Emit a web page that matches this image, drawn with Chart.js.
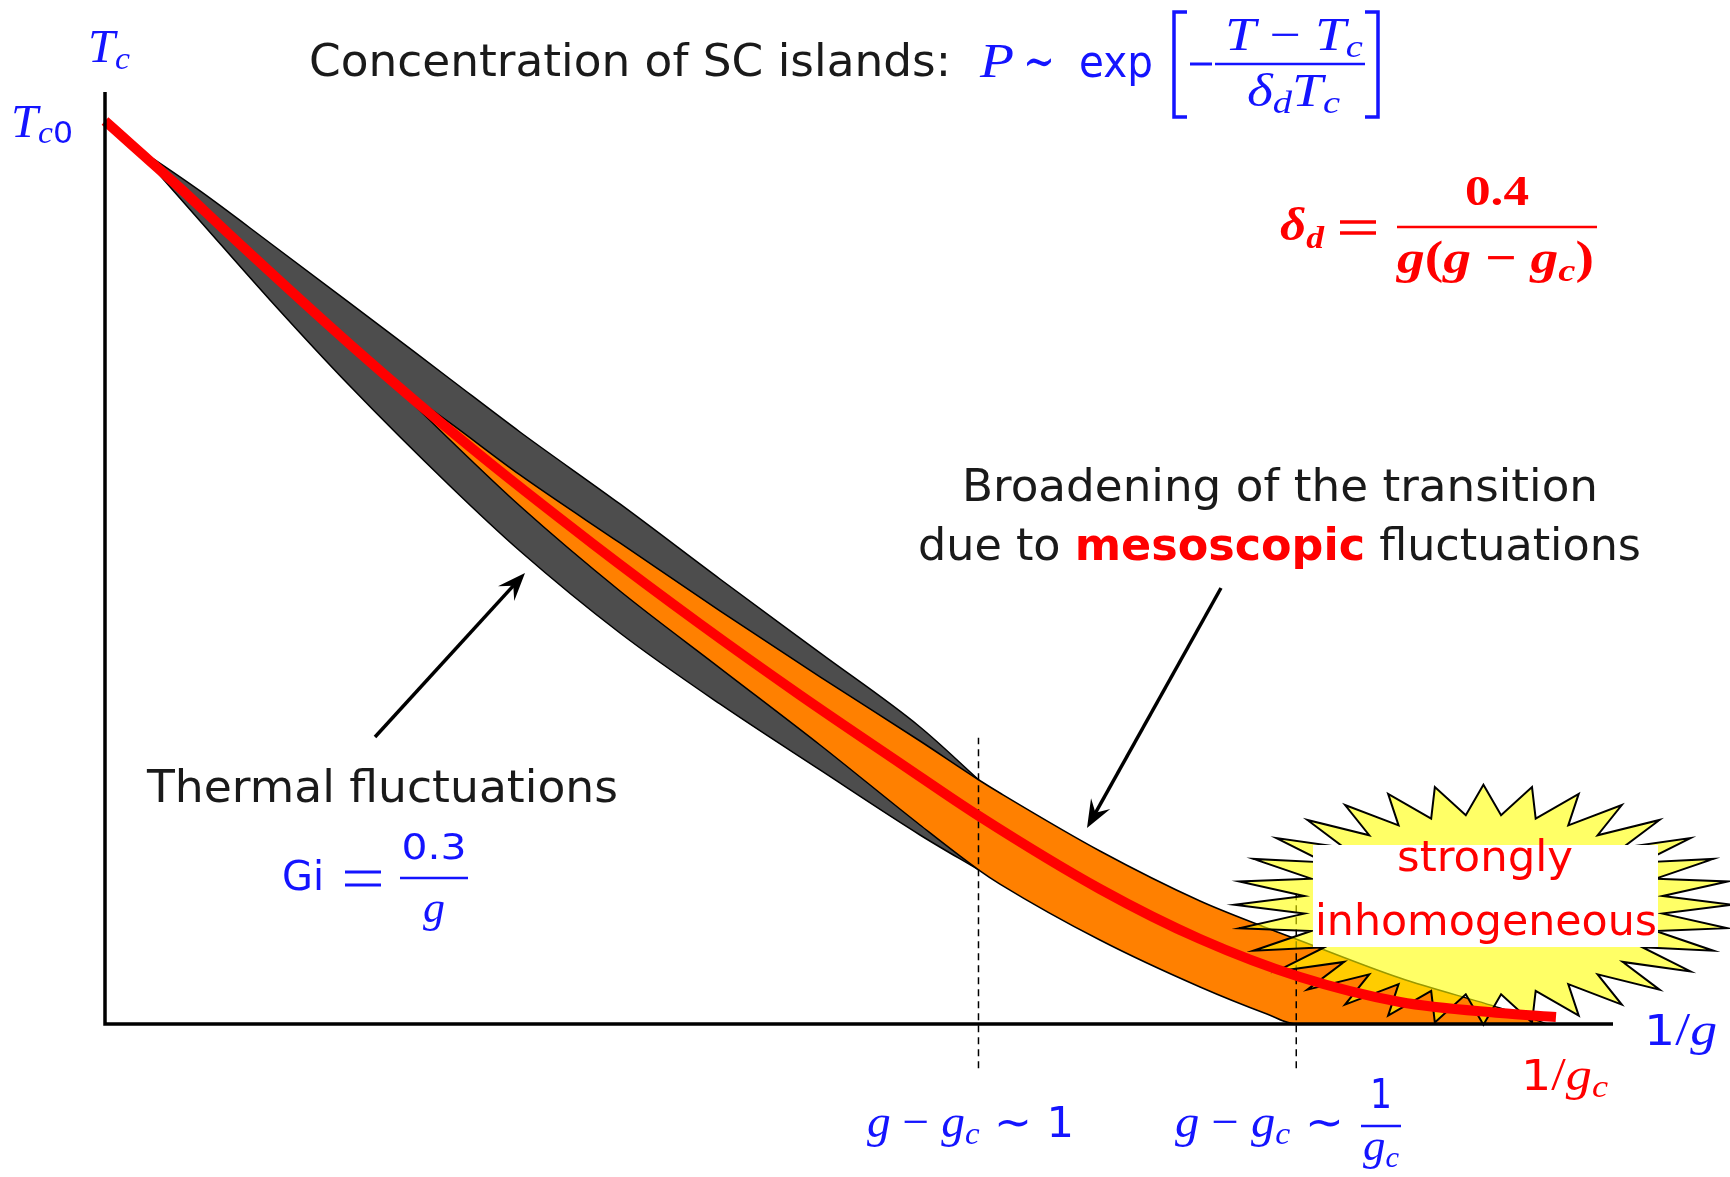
<!DOCTYPE html>
<html>
<head>
<meta charset="utf-8">
<script src="https://cdn.jsdelivr.net/npm/chart.js@4.4.1/dist/chart.umd.min.js"></script>
<style>
  html, body { margin: 0; padding: 0; background: #fff; }
  #wrap { width: 1730px; height: 1177px; position: relative; }
</style>
</head>
<body>
<div id="wrap"><canvas id="tc"></canvas></div>
<script>
// x axis: 1/g in units of 1/g_c, y axis: T_c in units of T_c0

// mean-field T_c(1/g)
const tcX = [0, 0.0193, 0.0517, 0.0861, 0.1709, 0.2516, 0.3363, 0.4101, 0.479, 0.5479, 0.6023, 0.6857, 0.7547, 0.8236, 0.8925, 0.9614, 1.0];
const tcY = [1.0, 0.9723, 0.9258, 0.8738, 0.7497, 0.639, 0.5316, 0.443, 0.3643, 0.289, 0.2303, 0.1495, 0.0941, 0.052, 0.0244, 0.0122, 0.0078];

// edges of the thermal-fluctuation region
const thermalX = [0.0193, 0.0655, 0.1137, 0.1688, 0.2378, 0.286, 0.3549, 0.4238, 0.4928, 0.5617, 0.6023];
const thermalHi = [0.9734, 0.9225, 0.8649, 0.7984, 0.7143, 0.6556, 0.5759, 0.4928, 0.4109, 0.3289, 0.2702];
const thermalLo = [0.9734, 0.8893, 0.8018, 0.7065, 0.5958, 0.5238, 0.433, 0.3544, 0.2813, 0.2093, 0.1705];

// edges of the broadening from mesoscopic fluctuations
const mesoX = [0.1943, 0.2378, 0.286, 0.3549, 0.4238, 0.4928, 0.5617, 0.6023, 0.6168, 0.6857, 0.7547, 0.8008, 0.8208, 0.8925, 0.9614, 0.9945];
const mesoHi = [0.7154, 0.6656, 0.608, 0.5327, 0.4574, 0.3843, 0.3134, 0.2702, 0.2558, 0.1916, 0.1362, 0.1063, 0.0941, 0.0509, 0.0177, 0];
const mesoLo = [0.7154, 0.6467, 0.5736, 0.4795, 0.3942, 0.309, 0.2204, 0.1705, 0.155, 0.093, 0.041, 0.0111, 0, 0, 0, 0];

// crossovers g - g_c ~ 1 and g - g_c ~ 1/g_c
const crossX = [0.602, 0.821];
const crossTop = [0.317, 0.145];
const crossBottom = -0.049;

const SANS = '"DejaVu Sans", sans-serif';
const SERIF = '"Liberation Serif", "DejaVu Serif", serif';
const BLUE = '#1414ff';
const RED = '#ff0000';
const INK = '#1a1a1a';

function points(xs, ys) {
    return xs.map((x, i) => ({ x, y: ys[i] }));
}

function edge(xs, ys, order, extra) {
    return Object.assign({
        data: points(xs, ys),
        showLine: true,
        borderColor: '#000',
        borderWidth: 1.5,
        cubicInterpolationMode: 'monotone',
        pointRadius: 0,
        fill: false,
        order
    }, extra || {});
}

function marker(i) {
    return {
        data: [{ x: crossX[i], y: crossBottom }, { x: crossX[i], y: crossTop[i] }],
        showLine: true,
        borderColor: '#000',
        borderWidth: 1.5,
        borderDash: [7, 5],
        pointRadius: 0,
        clip: false,
        order: 3
    };
}

// --- text helpers ---

// draws a row of text pieces, stretched to a given width
function run(ctx, parts, x, y, width, color) {
    let total = 0;
    parts.forEach(p => {
        ctx.font = p.font;
        p.w = ctx.measureText(p.text).width;
        total += p.w;
    });
    const sx = width ? width / total : 1;
    ctx.save();
    ctx.translate(x, y);
    ctx.scale(sx, 1);
    ctx.textBaseline = 'alphabetic';
    ctx.textAlign = 'left';
    let cx = 0;
    parts.forEach(p => {
        ctx.font = p.font;
        ctx.fillStyle = p.color || color;
        ctx.fillText(p.text, cx, p.dy || 0);
        cx += p.w;
    });
    ctx.restore();
}

function centered(ctx, parts, cx, y, width, color) {
    run(ctx, parts, cx - width / 2, y, width, color);
}

function hline(ctx, x1, x2, y, w, color) {
    ctx.save();
    ctx.strokeStyle = color;
    ctx.lineWidth = w;
    ctx.beginPath();
    ctx.moveTo(x1, y);
    ctx.lineTo(x2, y);
    ctx.stroke();
    ctx.restore();
}

function arrow(ctx, x1, y1, x2, y2) {
    const a = Math.atan2(y2 - y1, x2 - x1);
    const L = 28, W = 11;
    const ux = Math.cos(a), uy = Math.sin(a);
    ctx.save();
    ctx.strokeStyle = '#000';
    ctx.fillStyle = '#000';
    ctx.lineWidth = 3.5;
    ctx.beginPath();
    ctx.moveTo(x1, y1);
    ctx.lineTo(x2 - ux * L * 0.6, y2 - uy * L * 0.6);
    ctx.stroke();
    ctx.beginPath();
    ctx.moveTo(x2, y2);
    ctx.lineTo(x2 - ux * L - uy * W, y2 - uy * L + ux * W);
    ctx.lineTo(x2 - ux * L * 0.62, y2 - uy * L * 0.62);
    ctx.lineTo(x2 - ux * L + uy * W, y2 - uy * L - ux * W);
    ctx.closePath();
    ctx.fill();
    ctx.restore();
}

function starburst(ctx, cx, cy) {
    const n = 32, rxo = 249, ryo = 120, rxi = 180, ryi = 90;
    ctx.save();
    ctx.beginPath();
    for (let k = 0; k < 2 * n; k++) {
        const th = k * Math.PI / n;
        const outer = k % 2 === 0;
        const x = cx + (outer ? rxo : rxi) * Math.cos(th);
        const y = cy - (outer ? ryo : ryi) * Math.sin(th);
        if (k === 0) ctx.moveTo(x, y); else ctx.lineTo(x, y);
    }
    ctx.closePath();
    ctx.fillStyle = 'rgba(255, 255, 0, 0.6)';
    ctx.fill();
    ctx.strokeStyle = '#000';
    ctx.lineWidth = 2;
    ctx.lineJoin = 'miter';
    ctx.stroke();
    ctx.restore();
}

const it = (size, bold) => `${bold ? 'bold ' : ''}italic ${size}px ${SERIF}`;
const rm = (size, bold) => `${bold ? 'bold ' : ''}${size}px ${SERIF}`;
const sans = (size, bold) => `${bold ? 'bold ' : ''}${size}px ${SANS}`;

const sketch = {
    id: 'sketch',
    beforeDatasetDraw(chart, args) {
        // the "strongly inhomogeneous" burst sits between the bands and the T_c line
        if (args.index !== 0) return;
        const sx = chart.scales.x, sy = chart.scales.y;
        starburst(chart.ctx, sx.getPixelForValue(0.95), sy.getPixelForValue(0.132));
    },
    afterDatasetsDraw(chart) {
        const ctx = chart.ctx;
        const a = chart.chartArea;

        // axes
        ctx.save();
        ctx.strokeStyle = '#000';
        ctx.lineWidth = 3.5;
        ctx.beginPath();
        ctx.moveTo(a.left, a.top);
        ctx.lineTo(a.left, a.bottom + 1.75);
        ctx.moveTo(a.left - 1.75, a.bottom);
        ctx.lineTo(a.right, a.bottom);
        ctx.stroke();
        ctx.restore();

        // axis labels
        run(ctx, [{ text: 'T', font: it(46) }, { text: 'c', font: it(32), dy: 7 }], 88, 62, 42, BLUE);
        run(ctx, [{ text: 'T', font: it(46) }, { text: 'c', font: it(32), dy: 6 }, { text: '0', font: sans(30), dy: 6 }], 11, 137, 62, BLUE);
        run(ctx, [{ text: '1', font: sans(42) }, { text: '/', font: rm(46) }, { text: 'g', font: it(46) }], 1644, 1045, 73, BLUE);
        run(ctx, [{ text: '1', font: sans(42) }, { text: '/', font: rm(46) }, { text: 'g', font: it(46) }, { text: 'c', font: it(32), dy: 7 }], 1521, 1090, 87, RED);

        // title with the island concentration
        run(ctx, [{ text: 'Concentration of SC islands:', font: sans(44) }], 309, 76, 642, INK);
        run(ctx, [{ text: 'P', font: it(48) }], 980, 77, 34, BLUE);
        run(ctx, [{ text: '\u223C', font: `50px "DejaVu Serif", serif` }], 1023, 78, 32, BLUE);
        run(ctx, [{ text: 'exp', font: sans(44) }], 1079, 77, 74, BLUE);
        ctx.save();
        ctx.strokeStyle = BLUE;
        ctx.lineWidth = 3.5;
        ctx.beginPath();
        ctx.moveTo(1187, 12); ctx.lineTo(1174, 12); ctx.lineTo(1174, 117); ctx.lineTo(1187, 117);
        ctx.moveTo(1365, 12); ctx.lineTo(1378, 12); ctx.lineTo(1378, 117); ctx.lineTo(1365, 117);
        ctx.stroke();
        ctx.restore();
        hline(ctx, 1190, 1212, 64, 3, BLUE);
        hline(ctx, 1215, 1365, 64, 2.5, BLUE);
        run(ctx, [{ text: 'T', font: it(46) }, { text: ' \u2212 ', font: rm(46) }, { text: 'T', font: it(46) }, { text: 'c', font: it(32), dy: 7 }], 1225, 50, 138, BLUE);
        run(ctx, [{ text: '\u03B4', font: it(46) }, { text: 'd', font: it(32), dy: 7 }, { text: 'T', font: it(46) }, { text: 'c', font: it(32), dy: 7 }], 1247, 106, 93, BLUE);

        // disorder parameter
        run(ctx, [{ text: '\u03B4', font: it(46, true) }, { text: 'd', font: it(32, true), dy: 8 }], 1280, 240, 44, RED);
        hline(ctx, 1340, 1376, 222, 3.5, RED);
        hline(ctx, 1340, 1376, 233, 3.5, RED);
        hline(ctx, 1397, 1597, 227, 2.5, RED);
        centered(ctx, [{ text: '0.4', font: rm(42, true) }], 1497, 205, 64, RED);
        run(ctx, [{ text: 'g', font: it(46, true) }, { text: '(', font: rm(46, true) }, { text: 'g', font: it(46, true) },
                  { text: ' \u2212 ', font: rm(46, true) }, { text: 'g', font: it(46, true) }, { text: 'c', font: it(32, true), dy: 8 },
                  { text: ')', font: rm(46, true) }], 1397, 273, 197, RED);

        // annotations
        run(ctx, [{ text: 'Broadening of the transition', font: sans(44) }], 962, 501, 636, INK);
        run(ctx, [{ text: 'due to ', font: sans(44) }, { text: 'mesoscopic', font: sans(44, true), color: RED },
                  { text: ' fluctuations', font: sans(44) }], 918, 560, 723, INK);
        run(ctx, [{ text: 'Thermal fluctuations', font: sans(44) }], 147, 802, 471, INK);

        run(ctx, [{ text: 'Gi', font: sans(41) }], 282, 890, 42, BLUE);
        hline(ctx, 345, 381, 872, 3, BLUE);
        hline(ctx, 345, 381, 885, 3, BLUE);
        hline(ctx, 400, 468, 878, 2.5, BLUE);
        centered(ctx, [{ text: '0.3', font: sans(36) }], 434, 859, 65, BLUE);
        centered(ctx, [{ text: 'g', font: it(44) }], 434, 922, 22, BLUE);

        // crossover labels
        run(ctx, [{ text: 'g', font: it(46) }, { text: ' \u2212 ', font: rm(46) }, { text: 'g', font: it(46) },
                  { text: 'c', font: it(32), dy: 7 }, { text: ' \u223C ', font: sans(44) }, { text: '1', font: sans(42) }], 867, 1137, 207, BLUE);
        run(ctx, [{ text: 'g', font: it(46) }, { text: ' \u2212 ', font: rm(46) }, { text: 'g', font: it(46) },
                  { text: 'c', font: it(32), dy: 7 }, { text: ' \u223C', font: sans(44) }], 1175, 1137, 169, BLUE);
        centered(ctx, [{ text: '1', font: sans(40) }], 1381, 1108, 22, BLUE);
        hline(ctx, 1361, 1401, 1126, 2.5, BLUE);
        centered(ctx, [{ text: 'g', font: it(44) }, { text: 'c', font: it(30), dy: 7 }], 1381, 1160, 36, BLUE);

        // label inside the burst
        ctx.fillStyle = '#fff';
        ctx.fillRect(1313, 845, 345, 102);
        centered(ctx, [{ text: 'strongly', font: sans(43) }], 1485, 871, 176, RED);
        centered(ctx, [{ text: 'inhomogeneous', font: sans(43) }], 1486, 935, 342, RED);

        arrow(ctx, 375, 737, 525, 573);
        arrow(ctx, 1221, 588, 1087, 828);
    }
};

new Chart(document.getElementById('tc'), {
    type: 'scatter',
    data: {
        datasets: [
            {
                data: points(tcX, tcY),
                showLine: true,
                borderColor: RED,
                borderWidth: 10,
                pointRadius: 0,
                cubicInterpolationMode: 'monotone',
                clip: false,
                order: 1
            },
            marker(0),
            marker(1),
            // lower edges fill up to the edge listed just before them
            edge(mesoX, mesoHi, 4),
            edge(mesoX, mesoLo, 4, { fill: '-1', backgroundColor: '#ff8000' }),
            edge(thermalX, thermalHi, 5),
            edge(thermalX, thermalLo, 5, { fill: '-1', backgroundColor: '#4d4d4d' })
        ]
    },
    options: {
        responsive: true,
        maintainAspectRatio: false,
        animation: false,
        events: [],
        layout: { padding: { left: 105, right: 117, top: 92, bottom: 153 } },
        scales: {
            x: { type: 'linear', min: 0, max: 1.0393, display: false },
            y: { type: 'linear', min: 0, max: 1.0321, display: false }
        },
        plugins: {
            legend: { display: false },
            tooltip: { enabled: false }
        }
    },
    plugins: [sketch]
});
</script>
</body>
</html>
